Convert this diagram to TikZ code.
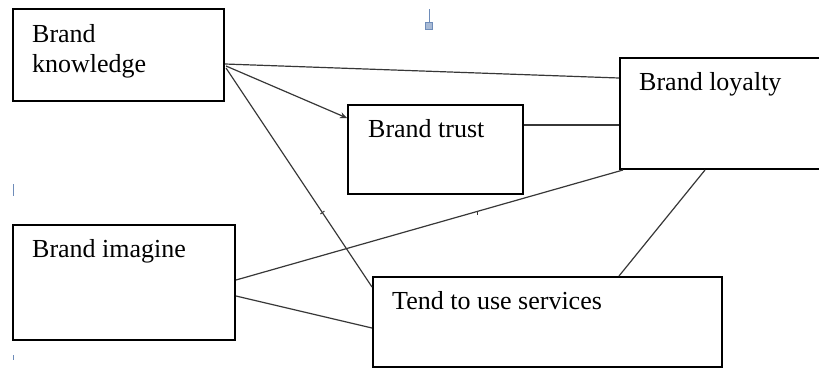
\documentclass[tikz,border=0pt]{standalone}
\usepackage{fontspec}
\setmainfont{Liberation Serif}
\usetikzlibrary{arrows.meta,calc}
\definecolor{anchorblue}{RGB}{110,140,185}
\definecolor{linkgray}{RGB}{55,55,55}
\tikzset{
  box/.style={draw=black, line width=2pt, rectangle, inner sep=0pt, anchor=north west},
  txt/.style={anchor=base west, inner sep=0pt, font=\fontsize{26}{30}\selectfont},
  link/.style={draw=linkgray, line width=1.2pt},
  marker/.style={draw=anchorblue, line width=1pt}
}
\begin{document}
\begin{tikzpicture}[x=1pt,y=-1pt]
  \useasboundingbox (0,0) rectangle (819,368);
  \begin{scope}
  \clip (0,0) rectangle (819,368);
  % boxes
  \node[box, minimum width=211pt, minimum height=92pt]  (bk) at (12,8)   {};
  \node[box, minimum width=175pt, minimum height=89pt]  (bt) at (347,104) {};
  \node[box, minimum width=215pt, minimum height=111pt] (bl) at (619,57)  {};
  \node[box, minimum width=222pt, minimum height=115pt] (bi) at (12,224)  {};
  \node[box, minimum width=349pt, minimum height=90pt]  (tu) at (372,276) {};
  \end{scope}

  % labels
  \node[txt] (bkA) at (32,42) {Brand};
  \node[txt] (bkB) at (32,72) {knowledge};
  \node[txt] (btL) at (368,137) {Brand trust};
  \node[txt] (blL) at (639,90) {Brand loyalty};
  \node[txt] (biL) at (32,257) {Brand imagine};
  \node[txt] (tuL) at (392,309) {Tend to use services};

  % connection points on the box borders
  \coordinate (bkE1) at ($(bk.north east)+(0,56)$);
  \coordinate (bkE2) at ($(bk.north east)+(1,58)$);
  \coordinate (bkE3) at ($(bk.north east)+(1,60)$);
  \coordinate (blW1) at ($(bl.north west)+(0,21)$);
  \coordinate (blW2) at ($(bl.north west)+(0,68)$);
  \coordinate (blS1) at ($(bl.south west)+(4,0)$);
  \coordinate (blS2) at ($(bl.south west)+(86,0)$);
  \coordinate (btW)  at ($(bt.north west)+(0,14)$);
  \coordinate (btE)  at ($(bt.north east)+(0,21)$);
  \coordinate (biE1) at ($(bi.north east)+(0,56)$);
  \coordinate (biE2) at ($(bi.north east)+(0,72)$);
  \coordinate (tuW1) at ($(tu.north west)+(0,11)$);
  \coordinate (tuW2) at ($(tu.north west)+(0,52)$);
  \coordinate (tuN)  at ($(tu.north west)+(247,0)$);

  % connectors
  \draw[link] (bkE1) -- (blW1);
  \draw[link, -{Stealth[length=7pt,width=6pt]}] (bkE2) -- (btW);
  \draw[link] (bkE3) -- (tuW1);
  \draw[link] (btE) -- (blW2);
  \draw[link] (biE1) -- (blS1);
  \draw[link] (biE2) -- (tuW2);
  \draw[link] (blS2) -- (tuN);

  % small tick marks on two of the lines
  \coordinate (tk1) at ($(bkE3)!0.66!(tuW1)$);
  \coordinate (tk2) at ($(biE1)!0.623!(blS1)$);
  \draw[link, line width=1pt] ($(tk1)+(-2,1.5)$) -- ($(tk1)+(2,-1.5)$);
  \draw[link, line width=1pt] (tk2) -- ++(0,3.5);

  % anchor marker and margin ticks
  \draw[marker] (429,9) -- (429,22);
  \draw[marker, fill=anchorblue!60] (425.5,22.5) rectangle (432.5,29.5);
  \draw[marker] (13,184) -- (13,196);
  \draw[marker] (13,355) -- (13,360);
\end{tikzpicture}
\end{document}
